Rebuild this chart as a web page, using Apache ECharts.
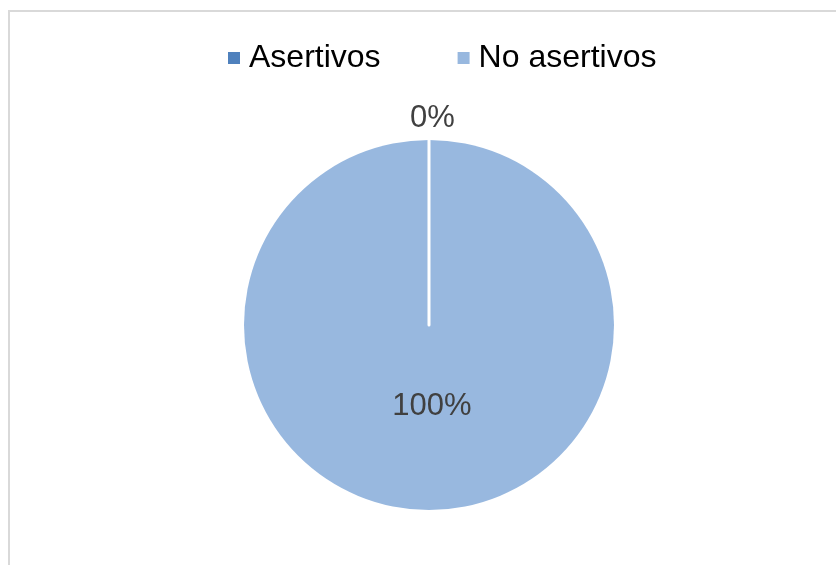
<!DOCTYPE html>
<html>
<head>
<meta charset="utf-8">
<script src="https://cdn.jsdelivr.net/npm/echarts@6/dist/echarts.min.js"></script>
<style>
  html, body { margin: 0; padding: 0; background: #fff; }
  #frame { position: absolute; left: 8px; top: 10px; width: 900px; height: 600px;
           border-left: 2px solid #d9d9d9; border-top: 2px solid #d9d9d9; }
  #chart { position: absolute; left: 0; top: 0; width: 836px; height: 565px; }
</style>
</head>
<body>
<div id="frame"></div>
<div id="chart"></div>
<script>
const categories = ['Asertivos', 'No asertivos'];
const values = [0, 100];

const sliceColors = ['#4F81BD', '#98B8DF'];
const font = 'Arial, "Liberation Sans", sans-serif';

const chart = echarts.init(document.getElementById('chart'), null, { renderer: 'canvas' });

// Build pie items; the zero slice is drawn last so its white edge shows on top.
const data = categories.map((name, i) => {
  const item = { name: name, value: values[i], itemStyle: { color: sliceColors[i] } };
  if (values[i] === 0) {
    item.itemStyle.borderColor = '#ffffff';
    item.itemStyle.borderWidth = 3;
    item.label = { position: 'outside', offset: [-19, 0], distanceToLabelLine: 0 };
    item.labelLine = { show: false, length: 22, length2: 0 };
  } else {
    item.label = { position: 'inside', offset: [3, -14] };
  }
  return item;
}).reverse();

chart.setOption({
  animation: false,
  backgroundColor: 'transparent',
  legend: {
    data: categories,
    left: 223,
    top: 37,
    itemWidth: 12,
    itemHeight: 12,
    itemGap: 77,
    icon: 'rect',
    itemStyle: { borderWidth: 0 },
    textStyle: { fontFamily: font, fontSize: 32, color: '#000000', padding: [0, 0, 0, 4] }
  },
  series: [{
    type: 'pie',
    center: [429, 325],
    radius: 185,
    startAngle: 90,
    clockwise: true,
    avoidLabelOverlap: false,
    emphasis: { disabled: true },
    label: {
      show: true,
      formatter: '{d}%',
      fontFamily: font,
      fontSize: 31,
      color: '#404040'
    },
    data: data
  }]
});
</script>
</body>
</html>
